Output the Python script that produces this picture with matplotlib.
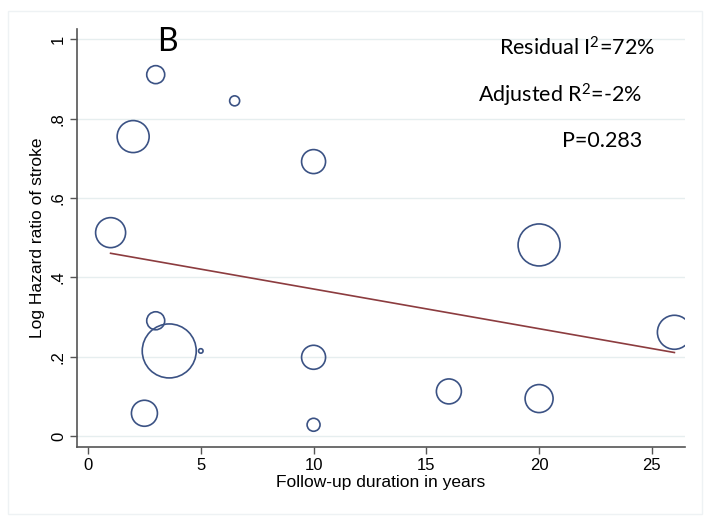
import matplotlib
matplotlib.use("Agg")
import matplotlib.pyplot as plt
from matplotlib.patches import Rectangle
import numpy as np

plt.rcParams["mathtext.fontset"] = "custom"
plt.rcParams["mathtext.rm"] = "Lato"
plt.rcParams["mathtext.default"] = "regular"

# Study-level data: follow-up (years), log hazard ratio, relative study weight
followup = [3.0, 6.5, 2.0, 10.0, 1.0, 20.0, 3.0, 3.6, 5.0, 10.0, 2.5, 10.0, 16.0, 20.0, 26.0]
log_hr = [0.911, 0.845, 0.755, 0.692, 0.513, 0.482, 0.291, 0.215, 0.215, 0.199, 0.058, 0.029, 0.113, 0.095, 0.262]
weight = [81, 25, 256, 144, 225, 441, 81, 729, 5, 144, 169, 42, 156, 196, 289]

# Fitted meta-regression line
fit_x = [1.0, 26.0]
fit_y = [0.461, 0.211]

xticks = [0, 5, 10, 15, 20, 25]
yticks = [0, 0.2, 0.4, 0.6, 0.8, 1.0]
ytick_labels = ["0", ".2", ".4", ".6", ".8", "1"]

W, H, DPI = 708, 516, 100
fig = plt.figure(figsize=(W / DPI, H / DPI), dpi=DPI)
fig.patch.set_facecolor("white")

# light outer frame
fig.patches.append(Rectangle((8 / W, 1 - 514 / H), (702 - 8) / W, (514 - 11) / H,
                             transform=fig.transFigure, fill=False,
                             edgecolor="#eef2f4", linewidth=1.0))

ax = fig.add_axes([77 / W, 1 - 447 / H, (685 - 77) / W, (447 - 29) / H])
ax.set_xlim(-0.49, 26.47)
ax.set_ylim(-0.027, 1.026)

for yt in yticks:
    ax.axhline(yt, color="#e6eeef", linewidth=1.0, zorder=0)

px_to_pt = 72.0 / DPI
sizes = [(2 * np.sqrt(w) * px_to_pt) ** 2 for w in weight]
ax.scatter(followup, log_hr, s=sizes, facecolors="none", edgecolors="#3b5284",
           linewidths=1.2, zorder=3)

ax.plot(fit_x, fit_y, color="#8c3c3f", linewidth=1.2, zorder=2)

for side in ("top", "right"):
    ax.spines[side].set_visible(False)
for side in ("left", "bottom"):
    ax.spines[side].set_color("#555555")
    ax.spines[side].set_linewidth(1.2)

tick_font = dict(fontsize=12, family="Liberation Sans")
ax.set_xticks(xticks)
ax.set_xticklabels([str(t) for t in xticks], **tick_font)
ax.set_yticks(yticks)
ax.set_yticklabels(ytick_labels, rotation=90, va="center", **tick_font)
ax.tick_params(axis="both", direction="out", length=5, width=1.0, color="#555555",
               pad=3)

ax.set_xlabel("Follow-up duration in years", fontsize=12.5, family="Liberation Sans",
              labelpad=1)
ax.set_ylabel("Log Hazard ratio of stroke", fontsize=12.5, family="Liberation Sans",
              labelpad=4)

fig.text(167 / W, 1 - 42 / H, "B", fontsize=23, family="Lato",
         ha="center", va="center")
stats_font = dict(fontsize=15.5, family="Lato", va="center", ha="right")
fig.text(655 / W, 1 - 48 / H, "Residual I$^{2}$=72%", **stats_font)
fig.text(642 / W, 1 - 95 / H, "Adjusted R$^{2}$=-2%", **stats_font)
fig.text(642 / W, 1 - 141 / H, "P=0.283", **stats_font)

fig.savefig("out.png", dpi=DPI)
